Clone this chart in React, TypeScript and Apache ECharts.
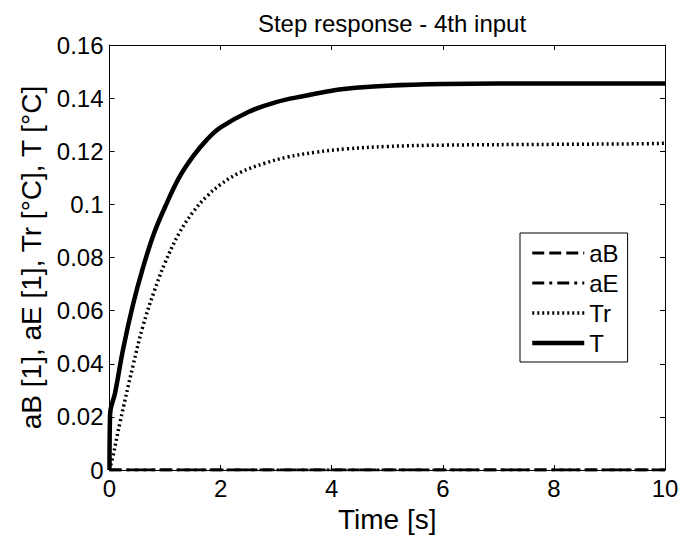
import React, { useEffect, useRef } from "react";
import * as echarts from "echarts";

const titleText = "Step response - 4th input";
const xName = "Time [s]";
const yName = "aB [1], aE [1], Tr [°C], T [°C]";
const seriesNames = ["aB", "aE", "Tr", "T"];

const tTimes = [0, 0.01, 0.1, 0.25, 0.42, 0.6, 0.8, 1.0, 1.25, 1.5, 1.75, 2.0, 2.5, 3.0, 3.5, 4.0, 4.5, 5.0, 6.0, 7.0, 10.0];
const tValues = [0, 0.021, 0.029, 0.046, 0.062, 0.076, 0.089, 0.099, 0.11, 0.118, 0.1243, 0.129, 0.1348, 0.1385, 0.1408, 0.1428, 0.144, 0.1447, 0.1453, 0.1455, 0.1455];

const trTimes = [0, 0.06, 0.19, 0.42, 0.6, 0.8, 1.0, 1.25, 1.5, 1.75, 2.0, 2.35, 2.8, 3.2, 3.7, 4.27, 5.0, 6.0, 8.0, 9.5, 10.0];
const trValues = [0, 0.005, 0.018, 0.039, 0.054, 0.067, 0.078, 0.089, 0.097, 0.103, 0.1075, 0.112, 0.1155, 0.1178, 0.1196, 0.1209, 0.1218, 0.1223, 0.1226, 0.1228, 0.123];

const zeroTimes = [0, 10];
const aBValues = [0, 0];
const aEValues = [0, 0];

const pairs = (xs: number[], ys: number[]) => xs.map((x, i) => [x, ys[i]]);

const FONT = "'Liberation Sans', Arial, Helvetica, sans-serif";

export default function App() {
  const ref = useRef<HTMLDivElement>(null);
  useEffect(() => {
    if (!ref.current) return;
    const chart = echarts.init(ref.current, undefined, { renderer: "svg" });
    const axisCommon = {
      axisLine: { show: true, onZero: false, lineStyle: { color: "#000", width: 1 } },
      axisTick: { show: true, inside: true, length: 5, lineStyle: { color: "#000" } },
      splitLine: { show: false },
    };
    chart.setOption({
      animation: false,
      backgroundColor: "#fff",
      textStyle: { fontFamily: FONT, color: "#000" },
      title: {
        text: titleText,
        left: 387,
        textAlign: "center",
        top: 6,
        textStyle: { fontFamily: FONT, fontWeight: "normal", fontSize: 24, color: "#000" },
      },
      grid: { left: 109.5, right: 30, top: 45, bottom: 66, containLabel: false },
      legend: {
        show: true,
        data: seriesNames,
        orient: "vertical",
        left: 520,
        top: 233,
        itemWidth: 52,
        itemHeight: 14,
        itemGap: 6,
        padding: [8, 9, 7, 10],
        borderColor: "#000",
        borderWidth: 1,
        borderRadius: 0,
        backgroundColor: "#fff",
        itemStyle: { opacity: 0 },
        lineStyle: { width: "inherit" },
        textStyle: { fontFamily: FONT, fontSize: 24, lineHeight: 24, color: "#000" },
      },
      xAxis: [
        {
          ...axisCommon,
          type: "value",
          min: 0,
          max: 10,
          interval: 2,
          name: xName,
          nameLocation: "middle",
          nameGap: 35,
          nameTextStyle: { fontFamily: FONT, fontSize: 28, color: "#000" },
          axisLabel: { fontFamily: FONT, fontSize: 24, color: "#000", margin: 6 },
        },
        {
          ...axisCommon,
          type: "value",
          position: "top",
          min: 0,
          max: 10,
          interval: 2,
          axisLabel: { show: false },
        },
      ],
      yAxis: [
        {
          ...axisCommon,
          type: "value",
          min: 0,
          max: 0.16,
          interval: 0.02,
          name: yName,
          nameLocation: "middle",
          nameGap: 64,
          nameTextStyle: { fontFamily: FONT, fontSize: 28, color: "#000" },
          axisLabel: { fontFamily: FONT, fontSize: 24, color: "#000", margin: 6 },
        },
        {
          ...axisCommon,
          type: "value",
          position: "right",
          min: 0,
          max: 0.16,
          interval: 0.02,
          axisLabel: { show: false },
        },
      ],
      series: [
        {
          name: "aB",
          type: "line",
          showSymbol: false,
          symbol: "none",
          data: pairs(zeroTimes, aBValues),
          lineStyle: { color: "#000", width: 3, type: [12, 5] },
          itemStyle: { color: "#000" },
          z: 5,
        },
        {
          name: "aE",
          type: "line",
          showSymbol: false,
          symbol: "none",
          data: pairs(zeroTimes, aEValues),
          lineStyle: { color: "#000", width: 3, type: [12, 5, 3, 5] },
          itemStyle: { color: "#000" },
          z: 5,
        },
        {
          name: "Tr",
          type: "line",
          showSymbol: false,
          symbol: "none",
          smooth: 0.4,
          data: pairs(trTimes, trValues),
          lineStyle: { color: "#000", width: 3.5, type: [2, 3] },
          itemStyle: { color: "#000" },
        },
        {
          name: "T",
          type: "line",
          showSymbol: false,
          symbol: "none",
          smooth: 0.4,
          data: pairs(tTimes, tValues),
          lineStyle: { color: "#000", width: 4.5, type: "solid" },
          itemStyle: { color: "#000" },
        },
      ],
    });
    return () => chart.dispose();
  }, []);
  return <div ref={ref} style={{ width: 695, height: 538, position: "absolute", left: 0, top: 0 }} />;
}
